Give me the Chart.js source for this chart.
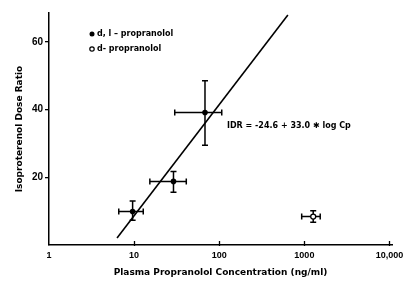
<!DOCTYPE html>
<html>
<head>
<meta charset="utf-8">
<script src="https://cdn.jsdelivr.net/npm/chart.js@4/dist/chart.umd.min.js"></script>
<style>
  html, body { margin: 0; padding: 0; background: #fff; }
  canvas { display: block; }
</style>
</head>
<body>
<canvas id="chart" width="405" height="281"></canvas>
<script>
const dlConc = [9.6, 29, 68];
const dlRatio = [9.9, 18.8, 39.2];
const dlConcLow = [6.6, 15.3, 30];
const dlConcHigh = [12.8, 41, 107];
const dlRatioLow = [7.3, 15.6, 29.5];
const dlRatioHigh = [13.0, 21.7, 48.6];

const dConc = [1270];
const dRatio = [8.4];
const dConcLow = [930];
const dConcHigh = [1535];
const dRatioLow = [6.7];
const dRatioHigh = [10.1];

const fitConc = [6.3, 640];
const fitRatio = [2.1, 68];

const xTicks = [1, 10, 100, 1000, 10000];
const xTickLabels = ['1', '10', '100', '1000', '10,000'];
const yTicks = [20, 40, 60];

const legendLabels = ['d, l \u2013 propranolol', 'd- propranolol'];
const equation = 'IDR = -24.6 + 33.0 \u2731 log Cp';

const FONT = 'DejaVu Sans';
const TICK_FONT = 'Liberation Sans';

function toPoints(xs, ys) {
  return xs.map((x, i) => ({ x: x, y: ys[i] }));
}

const errorBars = {
  id: 'errorBars',
  beforeDatasetsDraw(chart) {
    const { ctx, scales: { x, y } } = chart;
    const groups = [
      [dlConc, dlRatio, dlConcLow, dlConcHigh, dlRatioLow, dlRatioHigh],
      [dConc, dRatio, dConcLow, dConcHigh, dRatioLow, dRatioHigh]
    ];
    ctx.save();
    ctx.strokeStyle = '#000';
    ctx.lineWidth = 1.5;
    const cap = 3;
    groups.forEach(([cx, cy, xl, xh, yl, yh]) => {
      cx.forEach((v, i) => {
        const px = x.getPixelForValue(v);
        const py = y.getPixelForValue(cy[i]);
        const x0 = x.getPixelForValue(xl[i]);
        const x1 = x.getPixelForValue(xh[i]);
        const y0 = y.getPixelForValue(yl[i]);
        const y1 = y.getPixelForValue(yh[i]);
        ctx.beginPath();
        ctx.moveTo(x0, py); ctx.lineTo(x1, py);
        ctx.moveTo(x0, py - cap); ctx.lineTo(x0, py + cap);
        ctx.moveTo(x1, py - cap); ctx.lineTo(x1, py + cap);
        ctx.moveTo(px, y0); ctx.lineTo(px, y1);
        ctx.moveTo(px - cap, y0); ctx.lineTo(px + cap, y0);
        ctx.moveTo(px - cap, y1); ctx.lineTo(px + cap, y1);
        ctx.stroke();
      });
    });
    ctx.restore();
  }
};

const notes = {
  id: 'notes',
  afterDraw(chart) {
    const { ctx, scales: { x, y } } = chart;
    ctx.save();
    ctx.fillStyle = '#000';
    ctx.strokeStyle = '#000';

    ctx.lineWidth = 1.3;
    ctx.beginPath();
    xTicks.slice(1).forEach(v => {
      const px = Math.round(x.getPixelForValue(v)) + 0.5;
      ctx.moveTo(px, y.bottom + 1);
      ctx.lineTo(px, y.bottom - 4);
    });
    ctx.stroke();

    ctx.font = 'bold 8px ' + FONT;
    ctx.textBaseline = 'middle';

    ctx.beginPath();
    ctx.arc(92, 34, 2.5, 0, Math.PI * 2);
    ctx.fill();
    ctx.fillText(legendLabels[0], 97, 34);

    ctx.beginPath();
    ctx.lineWidth = 1.2;
    ctx.arc(92, 49, 2.2, 0, Math.PI * 2);
    ctx.stroke();
    ctx.fillText(legendLabels[1], 97, 49);

    ctx.fillText(equation, 227, 126);
    ctx.restore();
  }
};

new Chart(document.getElementById('chart'), {
  type: 'scatter',
  data: {
    datasets: [{
      label: legendLabels[0],
      data: toPoints(dlConc, dlRatio),
      pointRadius: 2.8,
      pointBackgroundColor: '#000',
      pointBorderColor: '#000',
      pointBorderWidth: 0
    }, {
      label: legendLabels[1],
      data: toPoints(dConc, dRatio),
      pointRadius: 2.5,
      pointBackgroundColor: '#fff',
      pointBorderColor: '#000',
      pointBorderWidth: 1.3
    }, {
      type: 'line',
      label: 'fit',
      data: toPoints(fitConc, fitRatio),
      borderColor: '#000',
      borderWidth: 1.6,
      pointRadius: 0,
      fill: false
    }]
  },
  options: {
    responsive: false,
    animation: false,
    devicePixelRatio: 1,
    layout: { padding: { top: 13, right: 13, left: 0, bottom: 0 } },
    plugins: {
      legend: { display: false },
      tooltip: { enabled: false }
    },
    scales: {
      x: {
        type: 'logarithmic',
        min: 1,
        max: 10700,
        afterBuildTicks: scale => {
          scale.ticks = xTicks.map(v => ({ value: v }));
        },
        afterFit: scale => {
          scale.height = 36;
          scale.paddingLeft = 0;
          scale.paddingRight = 0;
        },
        ticks: {
          color: '#000',
          padding: 5,
          maxRotation: 0,
          font: { family: TICK_FONT, size: 9, weight: 'bold' },
          callback: (v) => xTickLabels[xTicks.indexOf(v)]
        },
        grid: { drawOnChartArea: false, drawTicks: false },
        border: { color: '#000', width: 1.5 },
        title: {
          display: true,
          text: 'Plasma Propranolol Concentration (ng/ml)',
          color: '#000',
          padding: { top: 0, bottom: 3 },
          font: { family: FONT, size: 9, weight: 'bold' }
        }
      },
      y: {
        min: 0,
        max: 68.6,
        afterBuildTicks: scale => {
          scale.ticks = yTicks.map(v => ({ value: v }));
        },
        afterFit: scale => { scale.width = 49; },
        ticks: {
          color: '#000',
          padding: 2,
          font: { family: TICK_FONT, size: 10, weight: 'bold' }
        },
        grid: { drawOnChartArea: false, tickLength: 4, color: '#000', lineWidth: 1.3 },
        border: { color: '#000', width: 1.5 },
        title: {
          display: true,
          text: 'Isoproterenol Dose Ratio',
          color: '#000',
          padding: { top: 14, bottom: 0 },
          font: { family: FONT, size: 9, weight: 'bold' }
        }
      }
    }
  },
  plugins: [errorBars, notes]
});
</script>
</body>
</html>
